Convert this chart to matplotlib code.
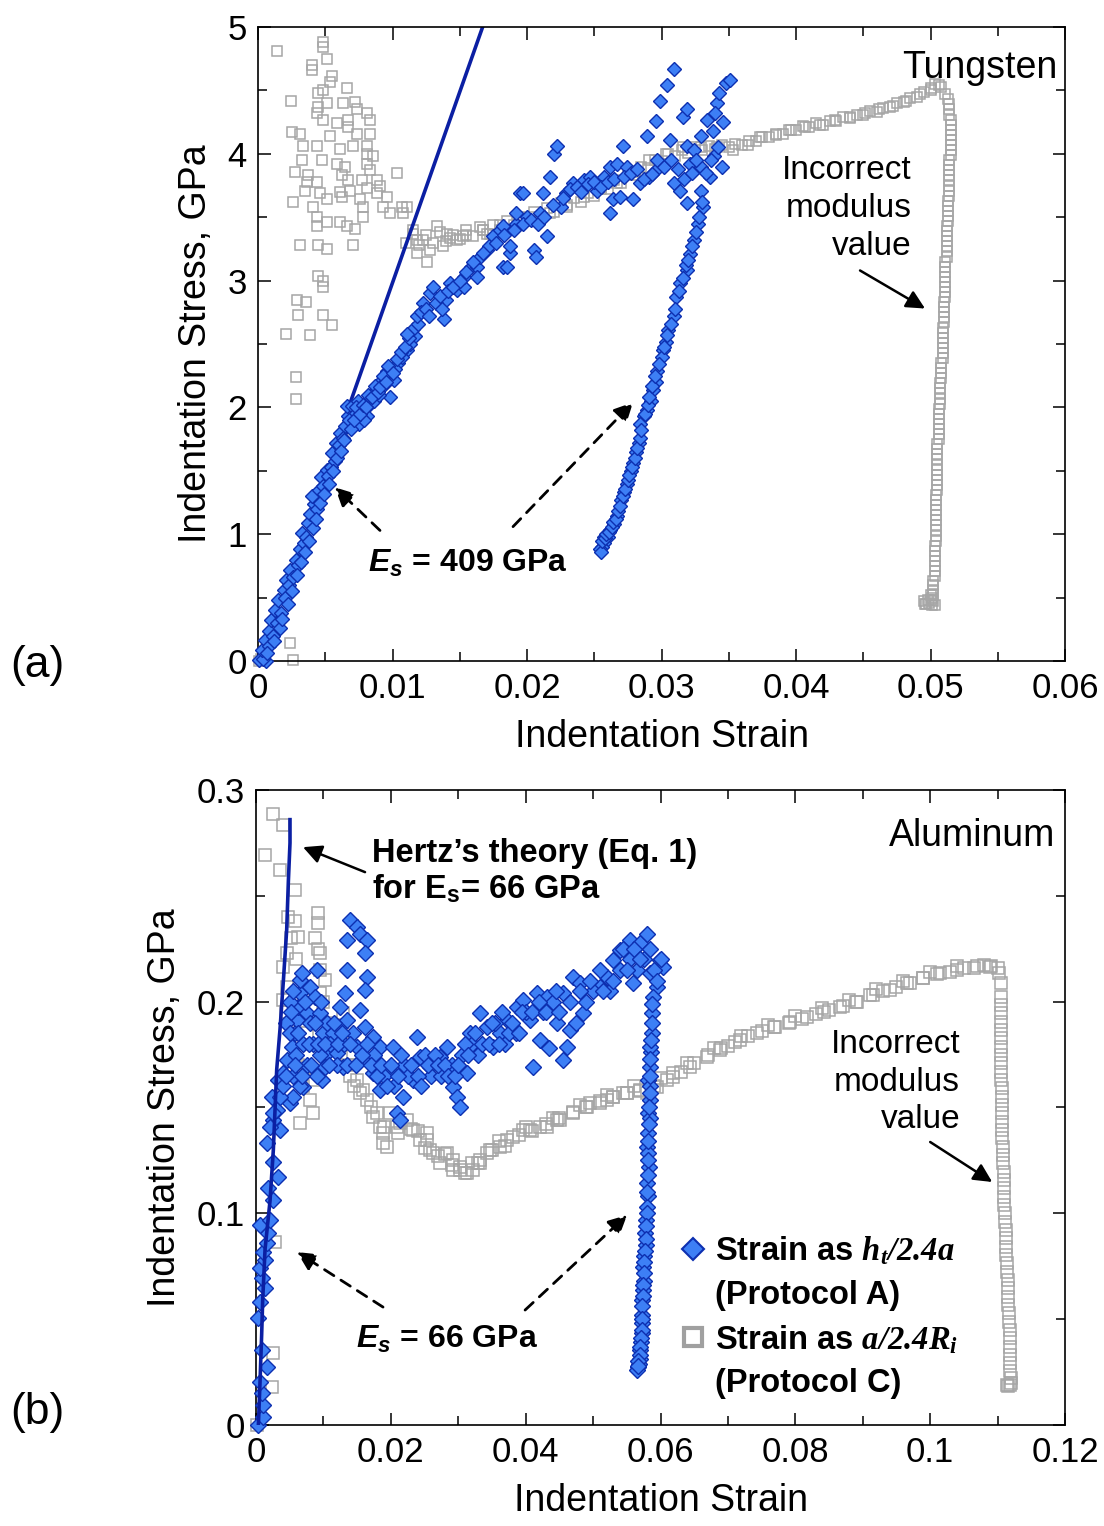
import numpy as np
import matplotlib
matplotlib.use('Agg')
import matplotlib.pyplot as plt
from matplotlib.lines import Line2D
from matplotlib.ticker import MultipleLocator, FuncFormatter
from matplotlib.font_manager import FontProperties

plt.rcParams['font.family'] = ['Liberation Sans', 'DejaVu Sans']
plt.rcParams['mathtext.fontset'] = 'custom'
plt.rcParams['mathtext.rm'] = 'Liberation Serif:bold:italic'
plt.rcParams['mathtext.it'] = 'Liberation Serif:bold:italic'
plt.rcParams['mathtext.sf'] = 'Liberation Sans:bold:italic'
plt.rcParams['mathtext.bf'] = 'Liberation Sans:bold'

# ---------------- Tungsten (a) ----------------
# Protocol C (gray squares): (strain, stress)
w_c_cloud = np.array([
    (0.00139,4.81),(0.00486,4.88),(0.00486,4.84),(0.0040,4.70),(0.0040,4.66),(0.0051,4.75),(0.00548,4.61),
    (0.00535,4.57),(0.00486,4.50),(0.00659,4.52),(0.00449,4.48),(0.00243,4.42),(0.00449,4.37),(0.0051,4.40),
    (0.00634,4.40),(0.00721,4.41),(0.00436,4.32),(0.00486,4.27),(0.00585,4.24),(0.00672,4.27),(0.00672,4.21),
    (0.00734,4.35),(0.00808,4.32),(0.00833,4.27),(0.0025,4.17),(0.00312,4.16),(0.00535,4.14),(0.00734,4.16),
    (0.00833,4.16),(0.00337,4.06),(0.00436,4.06),(0.0061,4.04),(0.00709,4.06),(0.00808,4.06),(0.00808,4.00),
    (0.00325,3.95),(0.00473,3.95),(0.00585,3.92),(0.00647,3.90),(0.00808,3.92),(0.00858,3.98),(0.00833,3.87),
    (0.00275,3.86),(0.00374,3.83),(0.00362,3.78),(0.00436,3.78),(0.00622,3.83),(0.00672,3.79),(0.00771,3.79),
    (0.00882,3.79),(0.00349,3.71),(0.00461,3.69),(0.0061,3.70),(0.00684,3.71),(0.00808,3.73),(0.00907,3.75),
    (0.01031,3.85),(0.00263,3.62),(0.00411,3.58),(0.0051,3.64),(0.00622,3.66),(0.00758,3.64),(0.00783,3.58),
    (0.00882,3.69),(0.00957,3.66),(0.00436,3.50),(0.0051,3.46),(0.0061,3.46),(0.00659,3.43),(0.00783,3.50),
    (0.00932,3.58),(0.00981,3.53),(0.01068,3.58),(0.01081,3.53),(0.00436,3.43),(0.00721,3.41),(0.00312,3.28),
    (0.00449,3.28),(0.0051,3.25),(0.00709,3.28),(0.00449,3.04),(0.00486,3.00),(0.00486,2.95),(0.00287,2.85),
    (0.00357,2.83),(0.0030,2.73),(0.00486,2.73),(0.00548,2.65),(0.00208,2.58),(0.00387,2.57),(0.0028,2.24),
    (0.0028,2.07),(0.0024,0.14),(0.0026,0.01),(0.0002,0.02),(0.0001,0.0)])
w_c_band = np.array([
    (0.01155,3.37),(0.01229,3.32),(0.0118,3.22),(0.01254,3.15),(0.01328,3.43),(0.01403,3.37),(0.01527,3.35),
    (0.01675,3.40),(0.01725,3.37),(0.01105,3.58),(0.01378,3.27),(0.01279,3.24),(0.01477,3.32),(0.0118,3.32),
    (0.0143,3.34),(0.0155,3.36),(0.0167,3.40),(0.018,3.44),(0.0193,3.48),(0.0205,3.50),(0.0217,3.53),
    (0.023,3.60),(0.0242,3.66),(0.0255,3.72),(0.0267,3.77),(0.028,3.86),(0.0291,3.95),(0.0303,4.00),
    (0.0316,4.05),(0.0329,4.05),(0.0341,4.05),(0.0353,4.03),(0.0364,4.07),(0.0373,4.13),(0.0385,4.15),
    (0.0396,4.19),(0.0407,4.21),(0.0418,4.23),(0.0429,4.27),(0.0440,4.29),(0.0451,4.32),(0.0462,4.35),
    (0.0472,4.38),(0.0482,4.42),(0.0492,4.47),(0.0500,4.52),(0.0506,4.54),
    (0.0110,3.30),(0.0115,3.40),(0.0120,3.28),(0.0125,3.36),(0.0130,3.30),(0.0135,3.38),(0.0140,3.31),
    (0.0145,3.36),(0.0150,3.33),(0.0155,3.40),(0.0160,3.35),(0.0165,3.42),(0.0170,3.37),(0.0175,3.44),
    (0.0180,3.40),(0.0185,3.47),(0.0190,3.44),(0.0195,3.50),(0.0200,3.47),(0.0205,3.54),(0.0210,3.50),
    (0.0215,3.57),(0.0220,3.54),(0.0225,3.61),(0.0230,3.58),(0.0235,3.65),(0.0240,3.62),(0.0245,3.69),
    (0.0250,3.67),(0.0255,3.74),(0.0260,3.72),(0.0265,3.79),(0.0270,3.77),(0.0275,3.84),(0.0280,3.83),
    (0.0285,3.90),(0.0290,3.89),(0.0295,3.95),(0.0300,3.94),(0.0305,4.00),(0.0310,3.98),(0.0315,4.03),
    (0.0320,4.01),(0.0325,4.05),(0.0330,4.03),(0.0335,4.06),(0.0340,4.04),(0.0345,4.07),(0.0350,4.05),
    (0.0355,4.08),(0.0360,4.07),(0.0365,4.10),(0.0370,4.10),(0.0375,4.13),(0.0380,4.13),(0.0385,4.16),
    (0.0390,4.16),(0.0395,4.19),(0.0400,4.19),(0.0405,4.22),(0.0410,4.21),(0.0415,4.24),(0.0420,4.23),
    (0.0425,4.26),(0.0430,4.26),(0.0435,4.29),(0.0440,4.28),(0.0445,4.31),(0.0450,4.31),(0.0455,4.34),
    (0.0460,4.33),(0.0465,4.36),(0.0470,4.37),(0.0475,4.40),(0.0480,4.41),(0.0485,4.44),(0.0490,4.45),
    (0.0495,4.49),(0.0500,4.50),(0.0503,4.55),(0.0508,4.53)])
w_c_drop = np.array([
    (0.0511,4.47),(0.0514,4.39),(0.0514,4.31),(0.0515,4.23),(0.0515,4.15),(0.0515,4.07),(0.0515,3.99),
    (0.0514,3.91),(0.0514,3.83),(0.0514,3.75),(0.0514,3.67),(0.0513,3.59),(0.0513,3.51),(0.0512,3.43),
    (0.0512,3.35),(0.0512,3.27),(0.0512,3.19),(0.0511,3.11),(0.0511,3.03),(0.0511,2.95),(0.0511,2.87),
    (0.0510,2.79),(0.0510,2.71),(0.0509,2.63),(0.0509,2.55),(0.0509,2.47),(0.0509,2.39),(0.0508,2.31),
    (0.0508,2.23),(0.0507,2.15),(0.0507,2.07),(0.0506,1.99),(0.0506,1.91),(0.0506,1.83),(0.0506,1.75),
    (0.0505,1.67),(0.0505,1.59),(0.0505,1.51),(0.0505,1.43),(0.0505,1.35),(0.0504,1.27),(0.0504,1.19),
    (0.0504,1.11),(0.0504,1.03),(0.0504,0.95),(0.0503,0.87),(0.0503,0.79),(0.0503,0.71),(0.0502,0.63),
    (0.0502,0.56),(0.0501,0.50),(0.0499,0.46),(0.0497,0.45),(0.0496,0.45),(0.0501,0.44),(0.0503,0.44),
    (0.0513,4.43),(0.0514,4.35),(0.0515,4.27),(0.0515,4.19),(0.0515,4.11),(0.0515,4.03),(0.0514,3.95),
    (0.0514,3.87),(0.0514,3.79),(0.0514,3.71),(0.0513,3.63),(0.0513,3.55),(0.0513,3.47),(0.0512,3.39),
    (0.0512,3.31),(0.0512,3.23),(0.0511,3.15),(0.0511,3.07),(0.0511,2.99),(0.0511,2.91),(0.0510,2.83),
    (0.0510,2.75),(0.0510,2.67),(0.0509,2.59),(0.0509,2.51),(0.0509,2.43),(0.0508,2.35),(0.0508,2.27),
    (0.0507,2.19),(0.0507,2.11),(0.0507,2.03),(0.0506,1.95),(0.0506,1.87),(0.0506,1.79),(0.0505,1.71),
    (0.0505,1.63),(0.0505,1.55),(0.0505,1.47),(0.0505,1.39),(0.0504,1.31),(0.0504,1.23),(0.0504,1.15),
    (0.0504,1.07),(0.0504,0.99),(0.0503,0.91),(0.0503,0.83),(0.0503,0.75),(0.0503,0.67),(0.0502,0.60),
    (0.0502,0.53),(0.0500,0.48),(0.0495,0.47),(0.0498,0.48),(0.0500,0.52),(0.0502,0.47)])

# Protocol A (blue diamonds)
w_a_load = np.array([
    (0.0001,0.01),(0.0006,0.0),(0.0004,0.02),(0.0003,0.09),(0.0005,0.17),(0.0008,0.24),(0.0010,0.32),
    (0.0013,0.40),(0.0015,0.48),(0.0019,0.56),(0.0021,0.64),(0.0024,0.72),(0.0028,0.80),(0.0031,0.88),
    (0.0034,0.93),(0.0033,1.01),(0.0037,1.09),(0.0039,1.16),(0.0042,1.24),(0.0040,1.30),(0.0045,1.35),
    (0.0047,1.45),(0.0051,1.51),(0.0054,1.53),(0.0055,1.64),(0.0058,1.72),(0.0061,1.80),(0.0065,1.85),
    (0.0067,1.93),(0.0066,2.01),(0.0070,2.01),(0.0072,1.95),(0.0075,1.87),(0.0077,1.98),(0.0081,1.93),
    (0.0083,2.03),(0.0088,2.14),(0.0092,2.22),(0.0096,2.29),(0.0098,2.08),(0.0101,2.22),(0.0104,2.35),
    (0.0111,2.45),(0.0117,2.56),(0.0008,0.12),(0.0011,0.20),(0.0014,0.30),(0.0017,0.38),(0.0020,0.50),
    (0.0023,0.60),(0.0026,0.66),(0.0030,0.76),(0.0036,0.98),(0.0044,1.20),(0.0048,1.38),(0.0052,1.46),
    (0.0057,1.58),(0.0060,1.70),(0.0063,1.76),(0.0068,1.90),(0.0074,2.05),(0.0079,1.90),(0.0086,2.05),
    (0.0090,2.10),(0.0094,2.18),(0.0102,2.30),(0.0107,2.40),(0.0113,2.50),
    (0.0007,0.06),(0.0012,0.16),(0.0016,0.26),(0.0018,0.33),(0.0022,0.45),(0.0025,0.55),(0.0029,0.68),
    (0.0032,0.78),(0.0035,0.86),(0.0038,0.95),(0.0041,1.05),(0.0043,1.12),(0.0046,1.25),(0.0049,1.32),
    (0.0053,1.40),(0.0056,1.50),(0.0059,1.60),(0.0062,1.66),(0.0064,1.74),(0.0069,1.83),(0.0071,1.90),
    (0.0073,2.00),(0.0076,1.95),(0.0078,2.02),(0.0080,2.00),(0.0082,2.10),(0.0085,2.08),(0.0087,2.17),
    (0.0089,2.12),(0.0091,2.16),(0.0093,2.25),(0.0095,2.20),(0.0097,2.33),(0.0100,2.27),(0.0103,2.38),
    (0.0106,2.44),(0.0109,2.48),(0.0112,2.55),(0.0115,2.62),(0.0119,2.66)])
w_a_plateau = np.array([
    (0.01105,2.58),(0.0118,2.72),(0.0123,2.82),(0.0128,2.90),(0.0130,2.95),(0.0140,2.85),(0.0138,2.70),
    (0.0143,2.98),(0.0148,2.93),(0.0153,2.95),(0.0153,3.03),(0.0158,3.11),(0.0163,3.11),(0.0165,3.19),
    (0.0170,3.24),(0.0163,3.03),(0.0172,3.27),(0.0175,3.35),(0.0180,3.40),(0.0182,3.43),(0.0182,3.11),
    (0.0185,3.11),(0.0187,3.22),(0.0187,3.27),(0.0192,3.45),(0.0192,3.53),(0.0195,3.69),(0.0197,3.69),
    (0.0200,3.50),(0.0205,3.24),(0.0207,3.19),(0.0210,3.53),(0.0212,3.69),(0.0215,3.35),(0.0217,3.82),
    (0.0220,4.00),(0.0222,4.06),(0.0225,3.58),(0.0229,3.69),(0.0234,3.77),(0.0242,3.79),(0.0247,3.82),
    (0.0252,3.71),(0.0257,3.82),(0.0262,3.90),(0.0267,3.92),(0.0271,4.06),(0.0264,3.64),(0.0262,3.53),
    (0.0269,3.66),(0.0274,3.90),(0.0279,3.64),(0.0284,3.77),(0.0289,4.14),(0.0291,3.82),(0.0296,3.87),
    (0.0299,4.42),(0.0296,4.26),(0.0304,4.54),(0.0309,4.67),(0.0306,4.11),(0.0309,3.77),(0.0314,3.71),
    (0.0316,4.29),(0.0319,4.35),(0.0319,4.06),(0.0321,3.92),(0.0319,3.61),(0.0324,4.03),(0.0329,4.14),
    (0.0329,3.90),(0.0334,4.27),(0.0338,4.18),(0.0339,3.98),(0.0341,4.40),(0.0343,4.48),(0.0348,4.56),
    (0.0351,4.58),(0.0345,3.90),(0.0336,3.82),(0.0329,3.71),
    (0.0121,2.75),(0.0125,2.78),(0.0127,2.72),(0.0132,2.82),(0.0135,2.88),(0.0137,2.78),(0.0141,2.92),
    (0.0145,2.95),(0.0150,3.00),(0.0155,3.07),(0.0160,3.15),(0.0167,3.22),(0.0177,3.30),(0.0183,3.36),
    (0.0190,3.40),(0.0197,3.45),(0.0203,3.48),(0.0208,3.45),(0.0213,3.50),(0.0219,3.60),(0.0227,3.65),
    (0.0232,3.72),(0.0237,3.74),(0.0240,3.70),(0.0245,3.76),(0.0250,3.78),(0.0255,3.74),(0.0260,3.78),
    (0.0265,3.80),(0.0272,3.82),(0.0277,3.85),(0.0282,3.88),(0.0287,3.80),(0.0293,3.84),(0.0297,3.95),
    (0.0302,3.90),(0.0307,3.95),(0.0312,3.88),(0.0317,3.80),(0.0323,3.85),(0.0326,3.95),(0.0333,3.85),
    (0.0337,3.95),(0.0342,4.05),(0.0346,4.25),(0.0340,4.32)])
w_a_unload = np.array([
    (0.0331,3.58),(0.0327,3.45),(0.0324,3.32),(0.0321,3.21),(0.0319,3.08),(0.0314,2.98),(0.0311,2.87),
    (0.0309,2.72),(0.0305,2.61),(0.0303,2.52),(0.0301,2.45),(0.0300,2.40),(0.0297,2.29),(0.0296,2.20),
    (0.0294,2.14),(0.0292,2.05),(0.0289,1.98),(0.0287,1.93),(0.0284,1.87),(0.0283,1.72),(0.0281,1.65),
    (0.0279,1.56),(0.0277,1.50),(0.0274,1.40),(0.0272,1.33),(0.0270,1.27),(0.0267,1.14),(0.0265,1.08),
    (0.0262,1.03),(0.0260,0.98),(0.0257,0.93),(0.0256,0.90),(0.0254,0.88),(0.0257,0.98),
    (0.0255,0.86),(0.0256,0.95),(0.0258,0.97),(0.0259,1.00),(0.0261,1.02),(0.0263,1.06),(0.0264,1.10),
    (0.0266,1.12),(0.0268,1.18),(0.0269,1.22),(0.0271,1.30),(0.0273,1.36),(0.0275,1.43),(0.0276,1.47),
    (0.0278,1.53),(0.0280,1.60),(0.0282,1.68),(0.0284,1.76),(0.0285,1.82),(0.0288,1.95),(0.0290,2.02),
    (0.0291,2.08),(0.0293,2.17),(0.0295,2.25),(0.0298,2.34),(0.0302,2.48),(0.0304,2.57),(0.0307,2.66),
    (0.0310,2.78),(0.0313,2.92),(0.0316,3.02),(0.0318,3.12),(0.0320,3.16),(0.0323,3.27),(0.0326,3.38),
    (0.0328,3.50),(0.0330,3.62)])
# Hertz line for tungsten
w_hertz_strain = [0.0069, 0.0167]
w_hertz_stress = [2.05, 5.0]

# ---------------- Aluminum (b) ----------------
al_c_early = np.array([
    (0.00257,0.2889),(0.00406,0.2834),(0.00134,0.2693),(0.00356,0.2622),(0.00579,0.2527),(0.0048,0.2401),
    (0.00925,0.2417),(0.00925,0.2370),(0.00628,0.2307),(0.00455,0.2228),(0.0095,0.2228),(0.00406,0.2165),
    (0.01024,0.2102),(0.00455,0.2070),(0.0095,0.2039),(0.00406,0.2007),(0.01296,0.1945),(0.00752,0.1850),
    (0.01395,0.1803),(0.01444,0.1756),(0.00752,0.1693),(0.0085,0.1630),(0.01592,0.1582),(0.0080,0.1535),
    (0.00653,0.1425),(0.0085,0.1472),(0.00282,0.0866),(0.00257,0.0339),(0.00232,0.0181),(0.0001,0.0),
    (0.0058,0.2380),(0.0052,0.2300),(0.0060,0.2200),(0.0045,0.1950),(0.0055,0.1880),(0.0062,0.1700),
    (0.0070,0.1600),(0.0088,0.2300),(0.0092,0.2250),(0.0095,0.2150),(0.0100,0.2000),(0.0110,0.1900),
    (0.0118,0.1850),(0.0125,0.1800),(0.0135,0.1700),(0.0140,0.1650),(0.0145,0.1600)])
al_c_band = np.array([
    (0.01494,0.1630),(0.01543,0.1567),(0.01642,0.1535),(0.01741,0.1456),(0.01790,0.1472),(0.01839,0.1409),
    (0.01889,0.1378),(0.01889,0.1330),(0.01939,0.1315),(0.01988,0.1472),(0.02087,0.1409),(0.02137,0.1425),
    (0.02235,0.1441),(0.02334,0.1394),(0.02433,0.1346),(0.02532,0.1378),(0.02532,0.1346),(0.02582,0.1299),
    (0.02631,0.1283),(0.0273,0.1236),(0.02829,0.1283),(0.02928,0.1252),(0.02928,0.1205),(0.03027,0.1220),
    (0.03027,0.1205),(0.03126,0.1189),(0.03224,0.1205),(0.03323,0.1252),(0.03323,0.1236),(0.03422,0.1283),
    (0.03472,0.1299),(0.0362,0.1315),(0.03719,0.1346),(0.03818,0.1362),(0.03966,0.1394),(0.04065,0.1394),
    (0.04214,0.1409),(0.04313,0.1409),(0.04461,0.1441),(0.0451,0.1441),(0.04708,0.1472),(0.04906,0.1504),
    (0.04955,0.1519),(0.05104,0.1519),(0.05203,0.1535),(0.05302,0.1551),(0.0545,0.1567),(0.05499,0.1567),
    (0.05697,0.1582),(0.0580,0.1567),(0.05945,0.1598),(0.06192,0.1645),(0.06192,0.1661),(0.06439,0.1693),
    (0.06686,0.1740),(0.06884,0.1771),(0.07181,0.1819),(0.07428,0.1850),(0.07676,0.1882),(0.0792,0.1905),
    (0.0817,0.1929),(0.0842,0.1953),(0.08665,0.1976),(0.0891,0.2000),(0.09159,0.2031),(0.0941,0.2055),
    (0.09654,0.2086),(0.0990,0.2110),(0.10148,0.2134),(0.1040,0.2149),(0.10643,0.2157),(0.1089,0.2165),
    (0.1102,0.2134),(0.1105,0.2086),
    (0.017,0.150),(0.019,0.141),(0.021,0.138),(0.023,0.140),(0.025,0.131),(0.027,0.127),(0.029,0.123),
    (0.031,0.119),(0.033,0.124),(0.035,0.130),(0.037,0.132),(0.039,0.137),(0.041,0.139),(0.043,0.142),
    (0.045,0.145),(0.047,0.148),(0.049,0.150),(0.051,0.153),(0.053,0.155),(0.055,0.157),(0.057,0.158),
    (0.059,0.160),(0.061,0.163),(0.063,0.167),(0.065,0.171),(0.067,0.175),(0.069,0.178),(0.070,0.179),
    (0.071,0.181),(0.073,0.184),(0.075,0.186),(0.077,0.188),(0.079,0.190),(0.081,0.192),(0.083,0.194),
    (0.085,0.196),(0.087,0.198),(0.089,0.200),(0.091,0.203),(0.093,0.205),(0.095,0.207),(0.097,0.209),
    (0.099,0.211),(0.101,0.213),(0.103,0.214),(0.105,0.216),(0.107,0.217),(0.108,0.2175),(0.109,0.217),
    (0.110,0.216),(0.060,0.164),(0.064,0.171),(0.068,0.178),(0.072,0.184),(0.076,0.189),(0.080,0.193),
    (0.084,0.197),(0.088,0.201),(0.092,0.206),(0.096,0.210),(0.100,0.214),(0.104,0.217),(0.024,0.139),
    (0.028,0.128),(0.032,0.124),(0.036,0.134),(0.040,0.141),(0.044,0.145),(0.048,0.151),(0.052,0.156),
    (0.056,0.160)])
al_c_drop = np.array([
    (0.1105,0.2023),(0.1105,0.1945),(0.1105,0.1866),(0.1105,0.1787),(0.1105,0.1708),(0.1105,0.1630),
    (0.1106,0.1551),(0.1107,0.1472),(0.1107,0.1394),(0.1108,0.1315),(0.1108,0.1236),(0.1109,0.1157),
    (0.1110,0.1079),(0.1111,0.1000),(0.1112,0.0921),(0.1113,0.0843),(0.1114,0.0764),(0.1115,0.0685),
    (0.1116,0.0606),(0.1117,0.0527),(0.1118,0.0449),(0.1118,0.0370),(0.1119,0.0291),(0.1120,0.0220),
    (0.1119,0.0190),(0.1116,0.0185),(0.1114,0.0190),
    (0.1105,0.1984),(0.1105,0.1905),(0.1105,0.1826),(0.1105,0.1748),(0.1105,0.1669),(0.1106,0.1590),
    (0.1106,0.1512),(0.1107,0.1433),(0.1107,0.1354),(0.1108,0.1276),(0.1109,0.1197),(0.1109,0.1118),
    (0.1110,0.1039),(0.1111,0.0961),(0.1112,0.0882),(0.1113,0.0803),(0.1114,0.0724),(0.1115,0.0646),
    (0.1116,0.0567),(0.1117,0.0488),(0.1118,0.0410),(0.1119,0.0331),(0.1119,0.0255),(0.1120,0.0200)])

al_a_load = np.array([
    (0.00035,0.0),(0.00109,0.004),(0.00109,0.0094),(0.00084,0.015),(0.00059,0.0205),(0.00158,0.0276),
    (0.00084,0.0354),(0.00035,0.0504),(0.00059,0.0583),(0.00134,0.0646),(0.00084,0.0693),(0.00059,0.074),
    (0.00134,0.0779),(0.00109,0.0819),(0.00158,0.0858),(0.00183,0.0905),(0.00059,0.0945),(0.00208,0.0968),
    (0.00257,0.1063),(0.00183,0.1118),(0.00331,0.1173),(0.00257,0.1244),(0.00158,0.133),(0.00356,0.1394),
    (0.00257,0.1441),(0.00307,0.1488),(0.00504,0.152)])
al_a_plateau = np.array([
    (0.00208,0.1409),(0.00257,0.1472),(0.00232,0.1551),(0.00331,0.163),(0.00406,0.1661),(0.00455,0.1724),
    (0.00529,0.1787),(0.00579,0.185),(0.00603,0.1913),(0.00628,0.1976),(0.00653,0.2039),(0.00653,0.2102),
    (0.00678,0.2134),(0.00702,0.1598),(0.00554,0.1551),(0.00752,0.1945),(0.0080,0.2071),(0.0090,0.2149),
    (0.00875,0.2023),(0.0095,0.1945),(0.00999,0.185),(0.01048,0.1756),(0.00974,0.163),(0.01024,0.1693),
    (0.01147,0.185),(0.01246,0.1882),(0.01345,0.1913),(0.01444,0.185),(0.01494,0.1787),(0.01197,0.1756),
    (0.01296,0.1693),(0.01246,0.1976),(0.0132,0.2039),(0.01345,0.2149),(0.01345,0.2291),(0.01395,0.2385),
    (0.01494,0.2354),(0.01543,0.2322),(0.01642,0.2291),(0.01617,0.2228),(0.01642,0.2118),(0.01617,0.2055),
    (0.01543,0.196),(0.01617,0.1882),(0.01741,0.1834),(0.01839,0.1787),(0.01642,0.1724),(0.01741,0.1661),
    (0.01839,0.1582),(0.01988,0.1677),(0.02038,0.1787),(0.02087,0.1472),(0.02137,0.1441),(0.02186,0.1551),
    (0.02334,0.163),(0.02384,0.1834),(0.02433,0.174),(0.02582,0.1693),(0.0273,0.174),(0.02829,0.1787),
    (0.02928,0.1598),(0.02977,0.1551),(0.03027,0.1504),(0.03126,0.1661),(0.03175,0.185),(0.03323,0.1945),
    (0.03422,0.1882),(0.03521,0.1787),(0.0362,0.185),(0.03719,0.1913),(0.03867,0.1976),(0.03966,0.2008),
    (0.04065,0.1913),(0.04164,0.2039),(0.04214,0.1819),(0.04115,0.1693),(0.04313,0.2023),(0.04461,0.1897),
    (0.0456,0.2039),(0.04708,0.2118),(0.04807,0.2086),(0.04659,0.1866),(0.04609,0.1787),(0.0456,0.1724),
    (0.04857,0.1945),(0.05104,0.2071),(0.05203,0.2118),(0.05302,0.2197),(0.05401,0.2242),(0.05549,0.2291),
    (0.05697,0.2275),(0.05796,0.2322),(0.05598,0.2086),(0.05846,0.2134),(0.05994,0.2197),(0.06044,0.2165),
    (0.05945,0.2071),(0.0045,0.190),(0.0050,0.200),(0.0055,0.165),(0.0060,0.175),(0.0065,0.160),
    (0.0070,0.180),(0.0075,0.170),(0.0080,0.190),(0.0085,0.180),(0.0090,0.165),(0.0095,0.175),
    (0.0105,0.190),(0.0110,0.180),(0.0120,0.170),(0.0130,0.180),(0.0135,0.170),(0.0175,0.175),
    (0.0190,0.165),(0.0205,0.160),(0.0220,0.170),(0.0225,0.165),(0.0250,0.175),(0.0260,0.165),
    (0.0275,0.165),(0.0290,0.170),(0.0305,0.175),(0.0320,0.180),(0.0330,0.175),(0.0355,0.190),
    (0.0370,0.180),(0.0385,0.185),(0.0400,0.195),(0.0425,0.195),(0.0440,0.200),(0.0435,0.178),
    (0.0475,0.190),(0.0490,0.200),(0.0500,0.205),(0.0525,0.205),(0.0540,0.215),(0.0555,0.220),
    (0.0565,0.215),(0.0575,0.220),
    (0.0035,0.1550),(0.0040,0.1600),(0.0045,0.1650),(0.0050,0.1850),(0.0052,0.1950),(0.0055,0.2050),
    (0.0058,0.1700),(0.0062,0.1850),(0.0068,0.1650),(0.0072,0.2000),(0.0078,0.1800),(0.0082,0.1700),
    (0.0087,0.1900),(0.0092,0.1800),(0.0097,0.2000),(0.0102,0.1800),(0.0108,0.1700),(0.0115,0.1900),
    (0.0122,0.1800),(0.0128,0.1850),(0.0140,0.1800),(0.0148,0.1700),(0.0157,0.1750),(0.0165,0.1800),
    (0.0170,0.1700),(0.0180,0.1650),(0.0185,0.1700),(0.0195,0.1600),(0.0200,0.1700),(0.0210,0.1650),
    (0.0215,0.1750),(0.0230,0.1700),(0.0240,0.1650),(0.0245,0.1600),(0.0255,0.1700),(0.0265,0.1750),
    (0.0270,0.1700),(0.0280,0.1700),(0.0285,0.1650),(0.0295,0.1650),(0.0300,0.1700),(0.0310,0.1800),
    (0.0315,0.1750),(0.0325,0.1850),(0.0335,0.1800),(0.0345,0.1800),(0.0350,0.1900),(0.0360,0.1800),
    (0.0365,0.1950),(0.0375,0.1850),(0.0380,0.1900),(0.0390,0.1850),(0.0395,0.1950),(0.0410,0.1950),
    (0.0420,0.2000),(0.0430,0.1950),(0.0445,0.2050),(0.0450,0.1950),(0.0465,0.2000),(0.0480,0.2050),
    (0.0495,0.2100),(0.0510,0.2150),(0.0515,0.2050),(0.0530,0.2100),(0.0545,0.2250),(0.0550,0.2150),
    (0.0560,0.2250),(0.0570,0.2200),(0.0585,0.2250),(0.0590,0.2150),(0.0595,0.2100),(0.0600,0.2200)])
al_a_unload = np.array([
    (0.05895,0.2023),(0.0587,0.1945),(0.0587,0.185),(0.0586,0.176),(0.05846,0.1787),(0.05846,0.1693),
    (0.05821,0.163),(0.0585,0.160),(0.05846,0.1535),(0.05821,0.1472),(0.0584,0.145),(0.05821,0.1378),
    (0.05806,0.1315),(0.05821,0.1283),(0.0583,0.122),(0.0580,0.1142),(0.0581,0.108),(0.0580,0.1031),
    (0.0579,0.097),(0.05771,0.0905),(0.0578,0.085),(0.0576,0.080),(0.05747,0.0748),(0.0575,0.068),
    (0.0574,0.064),(0.05722,0.059),(0.0573,0.052),(0.0572,0.048),(0.05722,0.0433),(0.0571,0.039),
    (0.05697,0.0354),(0.0570,0.031),(0.0568,0.029),(0.05673,0.0276),(0.05648,0.026),
    (0.0588,0.1990),(0.0587,0.1900),(0.0586,0.1820),(0.0585,0.1730),(0.0584,0.1650),(0.0584,0.1570),
    (0.0583,0.1500),(0.0583,0.1420),(0.0582,0.1340),(0.0582,0.1250),(0.0581,0.1180),(0.0580,0.1100),
    (0.0580,0.1000),(0.0579,0.0940),(0.0578,0.0880),(0.0577,0.0820),(0.0576,0.0770),(0.0575,0.0720),
    (0.0574,0.0660),(0.0574,0.0610),(0.0573,0.0560),(0.0572,0.0500),(0.0572,0.0450),(0.0571,0.0410),
    (0.0570,0.0370),(0.0569,0.0330),(0.0567,0.0300),(0.0566,0.0280)])
# Hertz curve for aluminum
al_hertz_strain = [0.00035,0.00059,0.00084,0.00099,0.00134,0.00208,0.00257,0.00307,0.00356,0.00406,
                   0.00455,0.0048,0.00504,0.00504]
al_hertz_stress = [0.0,0.020,0.043,0.059,0.083,0.106,0.130,0.168,0.187,0.210,0.234,0.257,0.275,0.286]

BLUE_FACE = '#3d7ff5'
BLUE_EDGE = '#0d2fb0'
LINE_C = '#0b1fa3'
GRAY = '#a6a6a6'

fig = plt.figure(figsize=(11.04, 15.26), dpi=100)
ax1 = fig.add_axes([0.2337, 0.5668, 0.7310, 0.4155])
ax2 = fig.add_axes([0.2319, 0.0662, 0.7328, 0.4161])


def draw_c(ax, pts, ms):
    ax.plot(pts[:, 0], pts[:, 1], ls='none', marker='s', ms=ms, mfc='none',
            mec=GRAY, mew=1.1, zorder=2, clip_on=False)


def draw_a(ax, pts, ms):
    ax.plot(pts[:, 0], pts[:, 1], ls='none', marker='D', ms=ms, mfc=BLUE_FACE,
            mec=BLUE_EDGE, mew=1.0, zorder=3, clip_on=False)


fmt = FuncFormatter(lambda v, p: '%g' % round(v, 6))


def style(ax, xmaj, xmin, ymaj, ymin, xlim, ylim):
    ax.set_xlim(*xlim)
    ax.set_ylim(*ylim)
    ax.xaxis.set_major_locator(MultipleLocator(xmaj))
    ax.xaxis.set_minor_locator(MultipleLocator(xmin))
    ax.yaxis.set_major_locator(MultipleLocator(ymaj))
    ax.yaxis.set_minor_locator(MultipleLocator(ymin))
    ax.xaxis.set_major_formatter(fmt)
    ax.yaxis.set_major_formatter(fmt)
    ax.tick_params(which='both', direction='in', top=True, right=True, width=1.1,
                   labelsize=25, pad=8)
    ax.tick_params(which='major', length=9)
    ax.tick_params(which='minor', length=6.5)
    for s in ax.spines.values():
        s.set_linewidth(1.2)
    ax.set_xlabel('Indentation Strain', fontsize=27, labelpad=10)
    ax.set_ylabel('Indentation Stress, GPa', fontsize=27, labelpad=10)


# ---- panel (a)
for pts in (w_c_cloud, w_c_band, w_c_drop):
    draw_c(ax1, pts, 7.6)
ax1.plot(w_hertz_strain, w_hertz_stress, color=LINE_C, lw=2.6, zorder=2.5)
for pts in (w_a_load, w_a_plateau, w_a_unload):
    draw_a(ax1, pts, 7.2)
style(ax1, 0.01, 0.005, 1, 0.5, (0, 0.06), (0, 5))

solid = dict(arrowstyle='-|>', color='k', lw=1.8, mutation_scale=28, shrinkA=0, shrinkB=0)
dashed = dict(arrowstyle='-|>', color='k', lw=2.0, linestyle=(0, (4, 3)), mutation_scale=28,
              shrinkA=0, shrinkB=0)

ax1.text(0.990, 0.9196, 'Tungsten', transform=ax1.transAxes, ha='right', va='baseline', fontsize=27)
ax1.text(0.0486, 3.57, 'Incorrect\nmodulus\nvalue', ha='right', va='center',
         multialignment='right', fontsize=24, linespacing=1.28)
ax1.annotate('', xy=(0.04959, 2.78), xytext=(0.04476, 3.08), arrowprops=solid)
ax1.text(0.0156, 0.70, r'$\mathsf{E_s}$ = 409 GPa', ha='center', va='baseline',
         fontsize=23, fontweight='bold')
ax1.annotate('', xy=(0.00572, 1.37), xytext=(0.00907, 1.03), arrowprops=dashed)
ax1.annotate('', xy=(0.02788, 2.04), xytext=(0.01896, 1.06), arrowprops=dashed)

# ---- panel (b)
for pts in (al_c_early, al_c_band, al_c_drop):
    draw_c(ax2, pts, 8.2)
for pts in (al_a_load, al_a_plateau, al_a_unload):
    draw_a(ax2, pts, 7.8)
ax2.plot(al_hertz_strain, al_hertz_stress, color=LINE_C, lw=2.6, zorder=4)
style(ax2, 0.02, 0.01, 0.1, 0.05, (0, 0.12), (0, 0.3))

ax2.text(0.988, 0.912, 'Aluminum', transform=ax2.transAxes, ha='right', va='baseline', fontsize=27)
ax2.text(0.01721, 0.266, 'Hertz\u2019s theory (Eq. 1)', ha='left', va='baseline',
         fontsize=23.5, fontweight='bold')
ax2.text(0.01721, 0.249, r'for E$_{\mathbf{s}}$= 66 GPa', ha='left', va='baseline',
         fontsize=23.5, fontweight='bold')
ax2.annotate('', xy=(0.00697, 0.273), xytext=(0.01617, 0.2612), arrowprops=solid)
ax2.text(0.10445, 0.162, 'Incorrect\nmodulus\nvalue', ha='right', va='center',
         multialignment='right', fontsize=24, linespacing=1.28)
ax2.annotate('', xy=(0.1092, 0.1148), xytext=(0.1000, 0.1337), arrowprops=solid)
ax2.text(0.02834, 0.0364, r'$\mathsf{E_s}$ = 66 GPa', ha='center', va='baseline',
         fontsize=23, fontweight='bold')
ax2.annotate('', xy=(0.00608, 0.0817), xytext=(0.01884, 0.0557), arrowprops=dashed)
ax2.annotate('', xy=(0.05504, 0.0992), xytext=(0.03991, 0.0543), arrowprops=dashed)

hA = Line2D([], [], ls='none', marker='D', ms=11, mfc=BLUE_FACE, mec=BLUE_EDGE, mew=1.5)
hC = Line2D([], [], ls='none', marker='s', ms=12.5, mfc='white', mec='#a0a0a0', mew=3)
blank = Line2D([], [], ls='none')
ax2.legend([hA, blank, hC, blank],
           [r'Strain as $\mathit{h_t/2.4a}$', '(Protocol A)',
            r'Strain as $\mathit{a/2.4R_i}$', '(Protocol C)'],
           loc='upper left', bbox_to_anchor=(0.5204, 0.300), frameon=False,
           handlelength=1.0, handletextpad=0.15, labelspacing=0.38, borderpad=0,
           borderaxespad=0, prop=FontProperties(family='Liberation Sans', weight='bold', size=23.5))

fig.text(0.0335, 0.564, '(a)', fontsize=32, ha='center', va='center')
fig.text(0.0335, 0.0747, '(b)', fontsize=32, ha='center', va='center')

fig.savefig('out.png', dpi=100)
